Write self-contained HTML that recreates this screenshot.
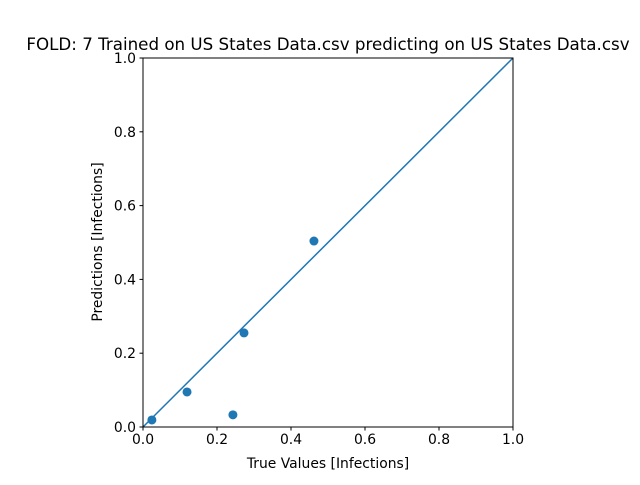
<!DOCTYPE html>
<html><head><meta charset="utf-8"><style>
body{margin:0;background:#fff;width:640px;height:480px;overflow:hidden}
svg text{font-family:"DejaVu Sans","Liberation Sans",sans-serif;fill:#000}
</style></head><body>
<svg id="chart" width="640" height="480"></svg>
<script>
const trueValues=[0.024,0.119,0.243,0.273,0.462];
const predictions=[0.019,0.095,0.033,0.255,0.504];
const xTicks=[0,0.2,0.4,0.6,0.8,1.0];
const yTicks=[0,0.2,0.4,0.6,0.8,1.0];
const tickLabels=["0.0","0.2","0.4","0.6","0.8","1.0"];
const L=143,R=513,T=58,B=427;
const sx=v=>L+v*(R-L), sy=v=>B-v*(B-T);
const svg=document.getElementById('chart');
const NS='http://www.w3.org/2000/svg';
function mk(tag,attrs,parent){const e=document.createElementNS(NS,tag);for(const k in attrs)e.setAttribute(k,attrs[k]);(parent||svg).appendChild(e);return e;}
const line=mk('line',{x1:sx(0),y1:sy(0),x2:sx(1),y2:sy(1),stroke:'#1f77b4','stroke-width':1.5});


trueValues.forEach((v,i)=>{
 const c=mk('circle',{cx:sx(v),cy:sy(predictions[i]),r:4.5,fill:'#1f77b4'});
 
 
});
const frame=mk('rect',{x:L,y:T,width:R-L,height:B-T,fill:'none',stroke:'#000','stroke-width':1});


xTicks.forEach((v,i)=>{
 mk('line',{x1:sx(v),y1:B,x2:sx(v),y2:B+3.5,stroke:'#000'});
 const t=mk('text',{x:sx(v),y:B+17,'text-anchor':'middle','font-size':'13.9px'});
 t.textContent=tickLabels[i];
 
 
});
yTicks.forEach((v,i)=>{
 mk('line',{x1:L-3.5,y1:sy(v),x2:L,y2:sy(v),stroke:'#000'});
 const t=mk('text',{x:L-7,y:sy(v)+5,'text-anchor':'end','font-size':'13.9px'});
 t.textContent=tickLabels[i];
 
 
});
</script>
<svg width="640" height="480" style="position:absolute;left:0;top:0">
<text x="328" y="50" text-anchor="middle" font-size="16.7px">FOLD: 7 Trained on US States Data.csv predicting on US States Data.csv</text>
<text x="328" y="468" text-anchor="middle" font-size="13.9px">True Values [Infections]</text>
<text x="102" y="242" text-anchor="middle" font-size="13.9px" transform="rotate(-90 102 242)">Predictions [Infections]</text>
</svg>
</body></html>
